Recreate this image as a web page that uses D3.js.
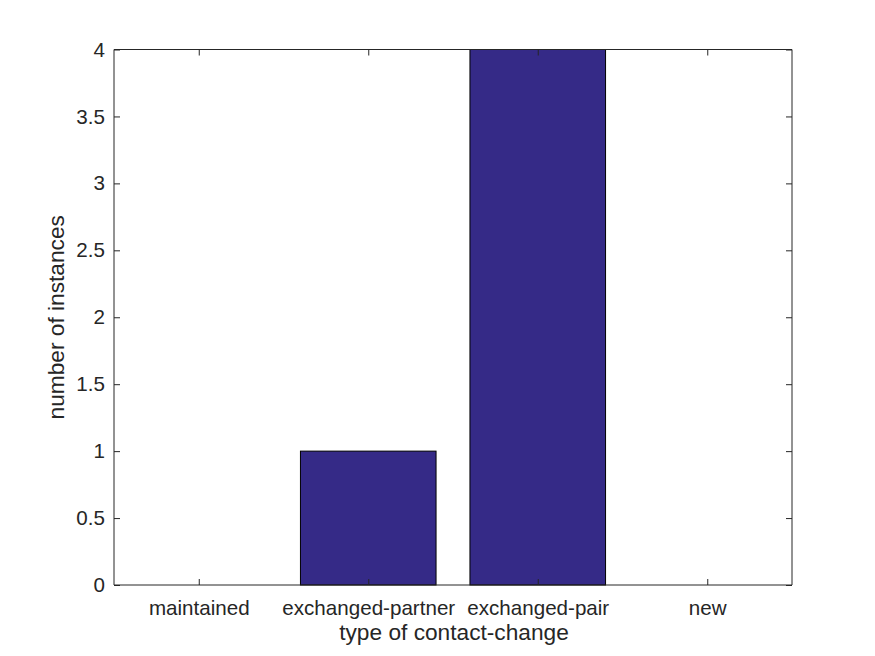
<!DOCTYPE html>
<html><head><meta charset="utf-8">
<script src="https://cdn.jsdelivr.net/npm/d3@7"></script>
<style>body{margin:0;background:#fff;} text{font-family:"Liberation Sans",Arial,Helvetica,sans-serif;fill:#262626;}</style>
</head><body>
<script>
const categories = ["maintained","exchanged-partner","exchanged-pair","new"];
const values = [0, 1, 4, 0];
const yTicks = [0, 0.5, 1, 1.5, 2, 2.5, 3, 3.5, 4];
const xLabel = "type of contact-change";
const yLabel = "number of instances";

const W = 875, H = 656;
const L = 114, R = 792, T = 49.5, B = 585;
const svg = d3.select("body").append("svg").attr("width", W).attr("height", H);
svg.append("rect").attr("width", W).attr("height", H).attr("fill", "#fff");

const x = d3.scaleLinear().domain([0.5, 4.5]).range([L, R]);
const y = d3.scaleLinear().domain([0, 4]).range([B, T]);
const bw = 0.8;

svg.append("g").selectAll("rect").data(values).join("rect")
  .attr("x", (d,i) => x(i+1-bw/2))
  .attr("width", x(1+bw) - x(1))
  .attr("y", d => y(d))
  .attr("height", d => y(0) - y(d))
  .attr("fill", "#352a87")
  .attr("stroke", d => d > 0 ? "#000" : "none")
  .attr("stroke-width", 1);

const tl = 6;
const gx = svg.append("g").attr("transform", `translate(0,${B})`)
  .call(d3.axisBottom(x).tickValues([1,2,3,4]).tickFormat((d,i)=>categories[i]).tickSize(-tl).tickPadding(15));
const gy = svg.append("g").attr("transform", `translate(${L},0)`)
  .call(d3.axisLeft(y).tickValues(yTicks).tickFormat(d3.format("~g")).tickSize(-tl).tickPadding(9));
const gt = svg.append("g").attr("transform", `translate(0,${T})`)
  .call(d3.axisTop(x).tickValues([1,2,3,4]).tickFormat("").tickSize(-tl));
const gr = svg.append("g").attr("transform", `translate(${R},0)`)
  .call(d3.axisRight(y).tickValues(yTicks).tickFormat("").tickSize(-tl));
[gx,gy,gt,gr].forEach(g => {
  g.attr("font-size", null);
  g.selectAll("path").attr("stroke","#262626").attr("stroke-width",1);
  g.selectAll("line").attr("stroke","#262626");
  g.selectAll("text").attr("font-size","20.6px").attr("fill","#262626")
   .style("font-family","'Liberation Sans',Arial,sans-serif");
});
gx.selectAll("path").attr("d", `M${L},0H${R}`);
gt.selectAll("path").attr("d", `M${L},0H${R}`);
gy.selectAll("path").attr("d", `M0,${T}V${B}`);
gr.selectAll("path").attr("d", `M0,${T}V${B}`);

svg.append("text").attr("x", (L+R)/2 + 1).attr("y", 640).attr("text-anchor","middle")
  .attr("font-size","22.7px").text(xLabel);
svg.append("text").attr("transform", `translate(64,${(T+B)/2}) rotate(-90)`).attr("text-anchor","middle")
  .attr("font-size","22.7px").text(yLabel);
</script>
</body></html>
